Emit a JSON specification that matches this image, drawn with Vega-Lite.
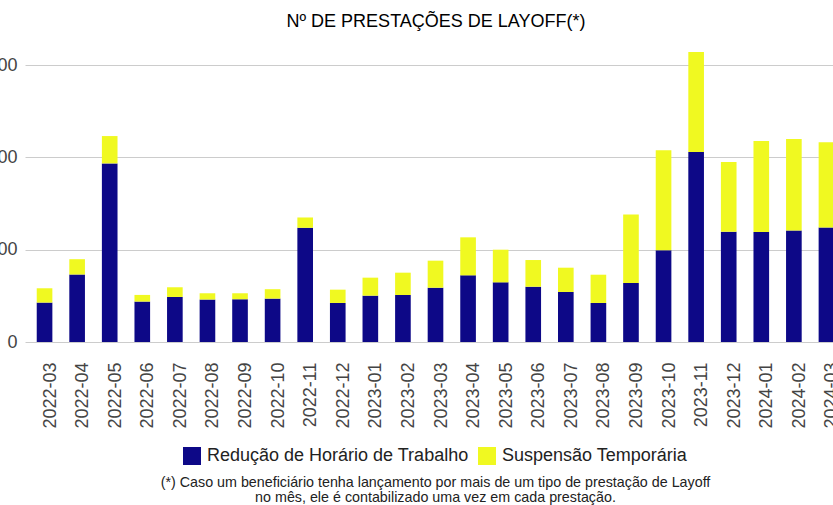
{
  "$schema": "https://vega.github.io/schema/vega-lite/v6.json",
  "width": 821,
  "height": 300,
  "autosize": {"type": "none"},
  "padding": {"left": 25, "top": 42, "right": -13, "bottom": 163},
  "config": {
    "font": "Liberation Sans",
    "view": {"stroke": null},
    "legend": {"layout": {"bottom": {"anchor": "middle"}}}
  },
  "title": {
    "text": ["(*) Caso um beneficiário tenha lançamento por mais de um tipo de prestação de Layoff", "no mês, ele é contabilizado uma vez em cada prestação."],
    "orient": "bottom",
    "anchor": "middle",
    "frame": "group",
    "fontSize": 14.3,
    "fontWeight": "normal",
    "color": "#222",
    "lineHeight": 15,
    "offset": 11
  },
  "data": {
    "values": [
      {"mes": "2022-03", "serie": "Redução de Horário de Trabalho", "valor": 427},
      {"mes": "2022-03", "serie": "Suspensão Temporária", "valor": 155},
      {"mes": "2022-04", "serie": "Redução de Horário de Trabalho", "valor": 731},
      {"mes": "2022-04", "serie": "Suspensão Temporária", "valor": 166},
      {"mes": "2022-05", "serie": "Redução de Horário de Trabalho", "valor": 1935},
      {"mes": "2022-05", "serie": "Suspensão Temporária", "valor": 296},
      {"mes": "2022-06", "serie": "Redução de Horário de Trabalho", "valor": 438},
      {"mes": "2022-06", "serie": "Suspensão Temporária", "valor": 72},
      {"mes": "2022-07", "serie": "Redução de Horário de Trabalho", "valor": 488},
      {"mes": "2022-07", "serie": "Suspensão Temporária", "valor": 105},
      {"mes": "2022-08", "serie": "Redução de Horário de Trabalho", "valor": 460},
      {"mes": "2022-08", "serie": "Suspensão Temporária", "valor": 68},
      {"mes": "2022-09", "serie": "Redução de Horário de Trabalho", "valor": 463},
      {"mes": "2022-09", "serie": "Suspensão Temporária", "valor": 65},
      {"mes": "2022-10", "serie": "Redução de Horário de Trabalho", "valor": 470},
      {"mes": "2022-10", "serie": "Suspensão Temporária", "valor": 102},
      {"mes": "2022-11", "serie": "Redução de Horário de Trabalho", "valor": 1237},
      {"mes": "2022-11", "serie": "Suspensão Temporária", "valor": 112},
      {"mes": "2022-12", "serie": "Redução de Horário de Trabalho", "valor": 423},
      {"mes": "2022-12", "serie": "Suspensão Temporária", "valor": 144},
      {"mes": "2023-01", "serie": "Redução de Horário de Trabalho", "valor": 502},
      {"mes": "2023-01", "serie": "Suspensão Temporária", "valor": 195},
      {"mes": "2023-02", "serie": "Redução de Horário de Trabalho", "valor": 509},
      {"mes": "2023-02", "serie": "Suspensão Temporária", "valor": 242},
      {"mes": "2023-03", "serie": "Redução de Horário de Trabalho", "valor": 588},
      {"mes": "2023-03", "serie": "Suspensão Temporária", "valor": 293},
      {"mes": "2023-04", "serie": "Redução de Horário de Trabalho", "valor": 722},
      {"mes": "2023-04", "serie": "Suspensão Temporária", "valor": 412},
      {"mes": "2023-05", "serie": "Redução de Horário de Trabalho", "valor": 646},
      {"mes": "2023-05", "serie": "Suspensão Temporária", "valor": 354},
      {"mes": "2023-06", "serie": "Redução de Horário de Trabalho", "valor": 599},
      {"mes": "2023-06", "serie": "Suspensão Temporária", "valor": 289},
      {"mes": "2023-07", "serie": "Redução de Horário de Trabalho", "valor": 542},
      {"mes": "2023-07", "serie": "Suspensão Temporária", "valor": 263},
      {"mes": "2023-08", "serie": "Redução de Horário de Trabalho", "valor": 423},
      {"mes": "2023-08", "serie": "Suspensão Temporária", "valor": 306},
      {"mes": "2023-09", "serie": "Redução de Horário de Trabalho", "valor": 639},
      {"mes": "2023-09", "serie": "Suspensão Temporária", "valor": 743},
      {"mes": "2023-10", "serie": "Redução de Horário de Trabalho", "valor": 993},
      {"mes": "2023-10", "serie": "Suspensão Temporária", "valor": 1085},
      {"mes": "2023-11", "serie": "Redução de Horário de Trabalho", "valor": 2059},
      {"mes": "2023-11", "serie": "Suspensão Temporária", "valor": 1082},
      {"mes": "2023-12", "serie": "Redução de Horário de Trabalho", "valor": 1195},
      {"mes": "2023-12", "serie": "Suspensão Temporária", "valor": 756},
      {"mes": "2024-01", "serie": "Redução de Horário de Trabalho", "valor": 1191},
      {"mes": "2024-01", "serie": "Suspensão Temporária", "valor": 987},
      {"mes": "2024-02", "serie": "Redução de Horário de Trabalho", "valor": 1209},
      {"mes": "2024-02", "serie": "Suspensão Temporária", "valor": 991},
      {"mes": "2024-03", "serie": "Redução de Horário de Trabalho", "valor": 1241},
      {"mes": "2024-03", "serie": "Suspensão Temporária", "valor": 923}
    ]
  },
  "layer": [
    {
      "mark": {"type": "bar"},
      "encoding": {
        "x": {
          "field": "mes",
          "type": "ordinal",
          "scale": {"paddingInner": 0.52, "paddingOuter": 0.36},
          "axis": {
            "orient": "bottom",
            "title": null,
            "labelAngle": 270,
            "labelFontSize": 18,
            "labelColor": "#444",
            "labelPadding": 20,
            "labelOffset": 6,
            "ticks": false,
            "domain": false
          }
        },
        "y": {
          "field": "valor",
          "type": "quantitative",
          "stack": "zero",
          "scale": {"domain": [0, 3250], "nice": false},
          "axis": {
            "title": null,
            "values": [0, 1000, 2000, 3000],
            "format": "d",
            "labelFontSize": 18,
            "labelColor": "#444",
            "labelPadding": 8,
            "ticks": false,
            "domain": false,
            "gridColor": "#cccccc"
          }
        },
        "order": {"field": "serie", "sort": "ascending"},
        "color": {
          "field": "serie",
          "type": "nominal",
          "scale": {
            "domain": ["Redução de Horário de Trabalho", "Suspensão Temporária"],
            "range": ["#0d0887", "#f0f921"]
          },
          "legend": {
            "orient": "bottom",
            "direction": "horizontal",
            "title": null,
            "symbolType": "square",
            "symbolSize": 324,
            "symbolStrokeWidth": 0,
            "labelFontSize": 18,
            "labelColor": "#222",
            "labelLimit": 500,
            "labelOffset": 6,
            "columnPadding": 9,
            "offset": 18
          }
        }
      }
    },
    {
      "mark": {"type": "rule", "opacity": 0},
      "encoding": {
        "x": {
          "field": "mes",
          "type": "ordinal",
          "axis": {
            "orient": "top",
            "title": "Nº DE PRESTAÇÕES DE LAYOFF(*)",
            "labels": false,
            "ticks": false,
            "domain": false,
            "grid": false,
            "titleFontSize": 18,
            "titleFontWeight": "normal",
            "titleColor": "#000",
            "titlePadding": 12
          }
        }
      }
    }
  ],
  "resolve": {"axis": {"x": "independent"}}
}
